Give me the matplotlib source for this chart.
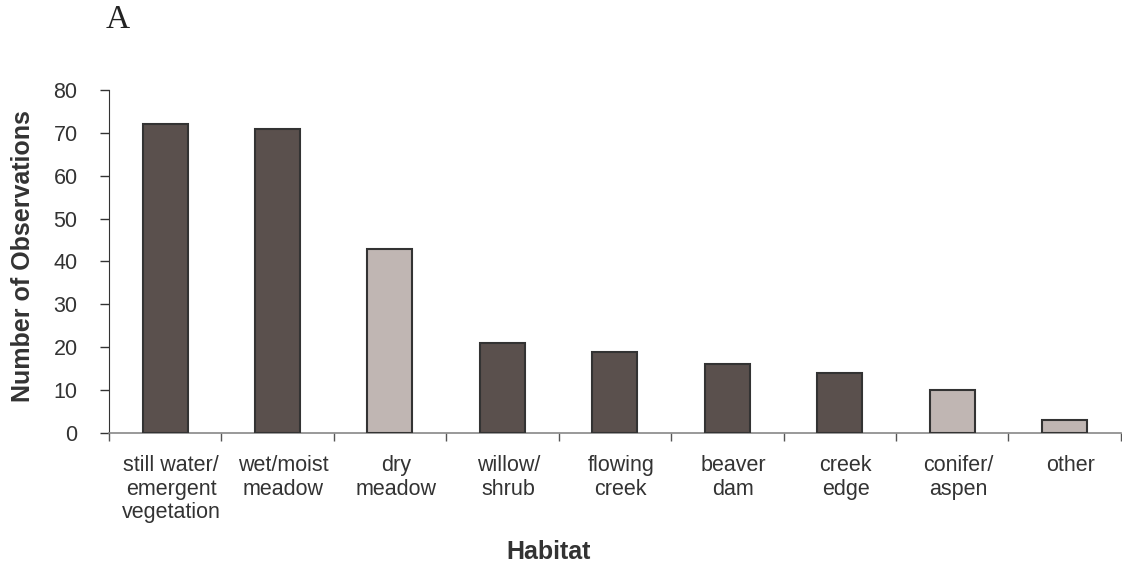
import numpy as np
import matplotlib.pyplot as plt
from matplotlib.transforms import ScaledTranslation

plt.rcParams['font.family'] = ['Liberation Sans', 'DejaVu Sans']

# data
habitats = ["still water/\nemergent\nvegetation", "wet/moist\nmeadow", "dry\nmeadow",
            "willow/\nshrub", "flowing\ncreek", "beaver\ndam", "creek\nedge",
            "conifer/\naspen", "other"]
counts = [72, 71, 43, 21, 19, 16, 14, 10, 3]
is_dry = [False, False, True, False, False, False, False, True, True]

dark = '#5a504d'
light = '#c0b6b3'
txt = '#333333'

fig = plt.figure(figsize=(11.22, 5.69), dpi=100)
ax = fig.add_axes([0.097, 0.239, 0.902, 0.603])

x = np.arange(len(habitats))
colors = [light if d else dark for d in is_dry]
ax.bar(x, counts, width=0.4, color=colors, edgecolor='#333333', linewidth=1.5, zorder=3)

ax.set_xlim(-0.5, len(habitats) - 0.5)
ax.set_ylim(0, 80)
ax.set_yticks(np.arange(0, 81, 10))
ax.tick_params(axis='y', labelsize=15.5, length=6.5, width=1, color='#333333',
               labelcolor=txt, pad=16)

ax.set_xticks(x)
ax.set_xticklabels(habitats, fontsize=15.5, color=txt, linespacing=1.15)
ax.tick_params(axis='x', which='major', length=0, pad=16)
ax.set_xticks(np.arange(-0.5, len(habitats), 1.0), minor=True)
ax.tick_params(axis='x', which='minor', length=6, width=1, color='#555555')

# labels sit a little right of the bar centres in the original
shift = ScaledTranslation(6 / 100, 0, fig.dpi_scale_trans)
for lab in ax.get_xticklabels():
    lab.set_transform(lab.get_transform() + shift)

for s in ['top', 'right']:
    ax.spines[s].set_visible(False)
ax.spines['left'].set_color('#333333')
ax.spines['bottom'].set_color('#888888')
ax.spines['bottom'].set_linewidth(1.2)

fig.text(0.0205, 0.55, "Number of Observations", fontsize=18, fontweight='bold',
         rotation=90, ha='center', va='center', color=txt)
fig.text(0.489, 0.03, "Habitat", fontsize=18, fontweight='bold',
         ha='center', va='center', color=txt)

fig.text(0.105, 0.965, "A", fontsize=24, family='Liberation Serif', va='center', ha='center',
         color='#222222')

plt.savefig('out.png', dpi=100)
